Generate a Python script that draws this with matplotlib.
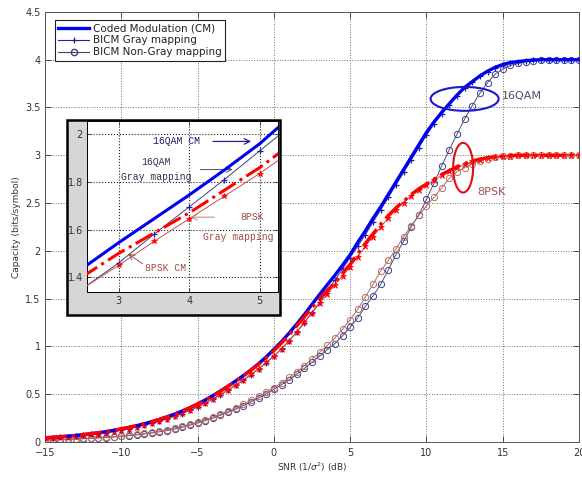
import numpy as np
import matplotlib
matplotlib.use('Agg')
import matplotlib.pyplot as plt
from matplotlib.patches import Ellipse, Rectangle

# SNR grid (dB), 0.5 dB steps
snr = np.arange(-15, 20.5, 0.5)

# 16QAM
qam16_cm = [0.044, 0.049, 0.055, 0.062, 0.069, 0.077, 0.087, 0.097, 0.109, 0.122,
            0.137, 0.153, 0.171, 0.191, 0.213, 0.237, 0.264, 0.293, 0.325, 0.36,
            0.398, 0.44, 0.485, 0.535, 0.585, 0.64, 0.695, 0.755, 0.82, 0.89,
            0.97, 1.05, 1.14, 1.235, 1.335, 1.44, 1.545, 1.645, 1.745, 1.85,
            1.96, 2.09, 2.21, 2.34, 2.46, 2.59, 2.72, 2.85, 2.98, 3.11,
            3.24, 3.35, 3.45, 3.54, 3.63, 3.71, 3.77, 3.83, 3.88, 3.92,
            3.95, 3.97, 3.98, 3.99, 3.995, 4.0, 4.0, 4.0, 4.0, 4.0, 4.0]
qam16_gray = [0.040, 0.045, 0.050, 0.056, 0.063, 0.070, 0.079, 0.088, 0.099, 0.111,
              0.125, 0.140, 0.156, 0.175, 0.195, 0.217, 0.242, 0.269, 0.298, 0.331,
              0.367, 0.406, 0.448, 0.494, 0.542, 0.593, 0.647, 0.704, 0.765, 0.83,
              0.90, 0.975, 1.06, 1.15, 1.25, 1.355, 1.46, 1.58, 1.695, 1.81,
              1.93, 2.05, 2.17, 2.3, 2.43, 2.56, 2.69, 2.82, 2.95, 3.08,
              3.21, 3.33, 3.43, 3.53, 3.62, 3.70, 3.765, 3.825, 3.875, 3.915,
              3.945, 3.965, 3.98, 3.99, 3.995, 4.0, 4.0, 4.0, 4.0, 4.0, 4.0]
qam16_nongray = [0.020, 0.022, 0.025, 0.028, 0.031, 0.034, 0.038, 0.042, 0.047, 0.052,
                 0.058, 0.066, 0.074, 0.084, 0.095, 0.107, 0.12, 0.136, 0.155, 0.176,
                 0.2, 0.224, 0.25, 0.28, 0.31, 0.345, 0.38, 0.42, 0.46, 0.505,
                 0.55, 0.6, 0.65, 0.71, 0.77, 0.835, 0.9, 0.965, 1.03, 1.11,
                 1.2, 1.3, 1.42, 1.53, 1.65, 1.8, 1.96, 2.1, 2.25, 2.38,
                 2.54, 2.71, 2.89, 3.06, 3.22, 3.38, 3.52, 3.65, 3.76, 3.85,
                 3.9, 3.94, 3.96, 3.98, 3.99, 4.0, 4.0, 4.0, 4.0, 4.0, 4.0]

# 8PSK
psk8_cm = [0.044, 0.049, 0.055, 0.062, 0.069, 0.077, 0.087, 0.097, 0.109, 0.122,
           0.137, 0.153, 0.171, 0.191, 0.213, 0.237, 0.263, 0.292, 0.324, 0.359,
           0.397, 0.438, 0.483, 0.532, 0.582, 0.636, 0.69, 0.75, 0.813, 0.88,
           0.955, 1.035, 1.12, 1.215, 1.31, 1.405, 1.50, 1.585, 1.67, 1.765,
           1.86, 1.97, 2.08, 2.18, 2.28, 2.37, 2.45, 2.52, 2.59, 2.65,
           2.70, 2.75, 2.80, 2.84, 2.88, 2.91, 2.94, 2.96, 2.975, 2.985,
           2.99, 2.995, 3.0, 3.0, 3.0, 3.0, 3.0, 3.0, 3.0, 3.0, 3.0]
psk8_gray = [0.040, 0.045, 0.050, 0.056, 0.063, 0.070, 0.079, 0.088, 0.099, 0.111,
             0.125, 0.140, 0.157, 0.176, 0.197, 0.22, 0.245, 0.273, 0.303, 0.336,
             0.372, 0.411, 0.453, 0.498, 0.546, 0.597, 0.651, 0.708, 0.768, 0.832,
             0.90, 0.975, 1.06, 1.155, 1.255, 1.355, 1.45, 1.55, 1.645, 1.74,
             1.835, 1.94, 2.05, 2.15, 2.25, 2.345, 2.43, 2.505, 2.575, 2.635,
             2.69, 2.74, 2.79, 2.835, 2.875, 2.905, 2.935, 2.955, 2.97, 2.985,
             2.99, 2.995, 3.0, 3.0, 3.0, 3.0, 3.0, 3.0, 3.0, 3.0, 3.0]
psk8_nongray = [0.022, 0.024, 0.027, 0.030, 0.033, 0.037, 0.041, 0.046, 0.051, 0.057,
                0.064, 0.072, 0.081, 0.091, 0.102, 0.115, 0.13, 0.147, 0.166, 0.187,
                0.21, 0.235, 0.262, 0.292, 0.324, 0.358, 0.395, 0.435, 0.477, 0.522,
                0.57, 0.62, 0.675, 0.735, 0.8, 0.87, 0.94, 1.01, 1.09, 1.18,
                1.28, 1.39, 1.52, 1.65, 1.79, 1.9, 2.02, 2.15, 2.26, 2.37,
                2.47, 2.56, 2.66, 2.76, 2.83, 2.87, 2.91, 2.94, 2.965, 2.98,
                2.99, 2.995, 3.0, 3.0, 3.0, 3.0, 3.0, 3.0, 3.0, 3.0, 3.0]

BLUE = '#0000f0'
RED = '#ff0000'


def draw_curves(ax, cm_lw=2.4, ms=4.5):
    # 16QAM
    ax.plot(snr, qam16_nongray, '-', color='#50507a', lw=0.7, marker='o', ms=ms,
            mfc='none', mec='#3c3c96', mew=0.7, zorder=2)
    ax.plot(snr, qam16_gray, '-', color='#404070', lw=0.7, marker='+', ms=ms + 0.5,
            mec='#2020b0', mew=0.9, zorder=3)
    ax.plot(snr, qam16_cm, '-', color=BLUE, lw=cm_lw, zorder=4)
    # 8PSK
    ax.plot(snr, psk8_nongray, '-', color='#a07070', lw=0.7, marker='o', ms=ms,
            mfc='none', mec='#c06a5a', mew=0.7, zorder=2)
    ax.plot(snr, psk8_gray, '-', color='#c05050', lw=0.7, marker='*', ms=ms,
            mec=RED, mfc=RED, mew=0.5, zorder=3)
    ax.plot(snr, psk8_cm, '-.', color=RED, lw=cm_lw, zorder=5)


fig = plt.figure(figsize=(5.82, 4.79), dpi=100)
ax = fig.add_axes([0.0773, 0.0772, 0.9177, 0.898])
draw_curves(ax)

ax.set_xlim(-15, 20)
ax.set_ylim(0, 4.5)
ax.set_xticks([-15, -10, -5, 0, 5, 10, 15, 20])
ax.set_yticks([0, 0.5, 1, 1.5, 2, 2.5, 3, 3.5, 4, 4.5])
ax.set_yticklabels(['0', '0.5', '1', '1.5', '2', '2.5', '3', '3.5', '4', '4.5'])
ax.tick_params(direction='in', top=True, right=True, labelsize=7, length=4,
               width=0.6, pad=3, colors='#333333')
ax.tick_params(axis='x', pad=4)
ax.grid(True, linestyle=':', color='#707070', lw=0.7)
for s in ax.spines.values():
    s.set_linewidth(0.7)
    s.set_color('#555555')
ax.set_xlabel(r'SNR (1/$\sigma^2$) (dB)', fontsize=6.5, color='#333333', labelpad=2)
ax.set_ylabel('Capacity (bits/symbol)', fontsize=6.5, color='#333333', labelpad=3)

# legend
h_cm, = ax.plot([], [], '-', color=BLUE, lw=2.4)
h_g, = ax.plot([], [], '-', color='#2020a0', lw=0.8, marker='+', ms=5, mew=0.9)
h_ng, = ax.plot([], [], '-', color='#40407a', lw=0.8, marker='o', ms=4.5, mfc='none')
leg = ax.legend([h_cm, h_g, h_ng],
                ['Coded Modulation (CM)', 'BICM Gray mapping', 'BICM Non-Gray mapping'],
                loc='upper left', bbox_to_anchor=(0.018, 0.982), borderaxespad=0,
                fontsize=7.5, fancybox=False, framealpha=1, edgecolor='#222222',
                handlelength=3.0, handletextpad=0.3, borderpad=0.35, labelspacing=0.2)
leg.get_frame().set_linewidth(0.8)
for t in leg.get_texts():
    t.set_color('#222222')

# ellipses
ax.add_patch(Ellipse((12.5, 3.59), 4.46, 0.25, fill=False, edgecolor='#1a1acc', lw=1.5, zorder=6))
ax.text(14.95, 3.62, '16QAM', fontsize=8, color='#4a4a70', va='center', ha='left')
ax.add_patch(Ellipse((12.4, 2.87), 1.31, 0.52, fill=False, edgecolor='#e01010', lw=1.5, zorder=6))
ax.text(13.3, 2.62, '8PSK', fontsize=8, color='#a05050', va='center', ha='left')

# inset background box
fig.patches.append(Rectangle((0.115, 0.342), 0.366, 0.407, transform=fig.transFigure,
                             facecolor='#d6d6d6', edgecolor='black', lw=1.8, zorder=1))

ins = fig.add_axes([0.1495, 0.390, 0.328, 0.357], zorder=3)
draw_curves(ins, cm_lw=2.2, ms=4)
ins.set_xlim(2.55, 5.26)
ins.set_ylim(1.337, 2.055)
ins.set_xticks([3, 4, 5])
ins.set_yticks([1.4, 1.6, 1.8, 2.0])
ins.set_yticklabels(['1.4', '1.6', '1.8', '2'])
ins.tick_params(direction='in', top=True, right=True, labelsize=7, length=3,
                width=0.6, pad=3, colors='#333333')
ins.grid(True, linestyle=':', color='#222222', lw=0.8)
for s in ins.spines.values():
    s.set_linewidth(0.7)

mono = 'Liberation Mono'
ins.text(3.49, 1.97, '16QAM CM', fontsize=7, family=mono, color='#1a1a6e', va='center')
ins.annotate('', xy=(4.92, 1.97), xytext=(4.3, 1.97),
             arrowprops=dict(arrowstyle='->', color='#2020a0', lw=0.9))
ins.text(3.53, 1.883, '16QAM', fontsize=7, family=mono, color='#303050', ha='center', va='center')
ins.text(3.53, 1.82, 'Gray mapping', fontsize=7, family=mono, color='#303050', ha='center', va='center')
ins.annotate('', xy=(4.66, 1.852), xytext=(4.12, 1.852),
             arrowprops=dict(arrowstyle='->', color='#505070', lw=0.7))
ins.text(4.9, 1.652, '8PSK', fontsize=7, family=mono, color='#a04848', ha='center', va='center')
ins.text(4.69, 1.568, 'Gray mapping', fontsize=7, family=mono, color='#a04848', ha='center', va='center')
ins.annotate('', xy=(3.98, 1.652), xytext=(4.4, 1.652),
             arrowprops=dict(arrowstyle='->', color='#c08080', lw=0.7))
ins.text(3.37, 1.44, '8PSK CM', fontsize=7, family=mono, color='#a04848', ha='left', va='center')
ins.annotate('', xy=(3.1, 1.505), xytext=(3.37, 1.45),
             arrowprops=dict(arrowstyle='->', color='#a04848', lw=0.7))

fig.savefig('out.png', dpi=100)
